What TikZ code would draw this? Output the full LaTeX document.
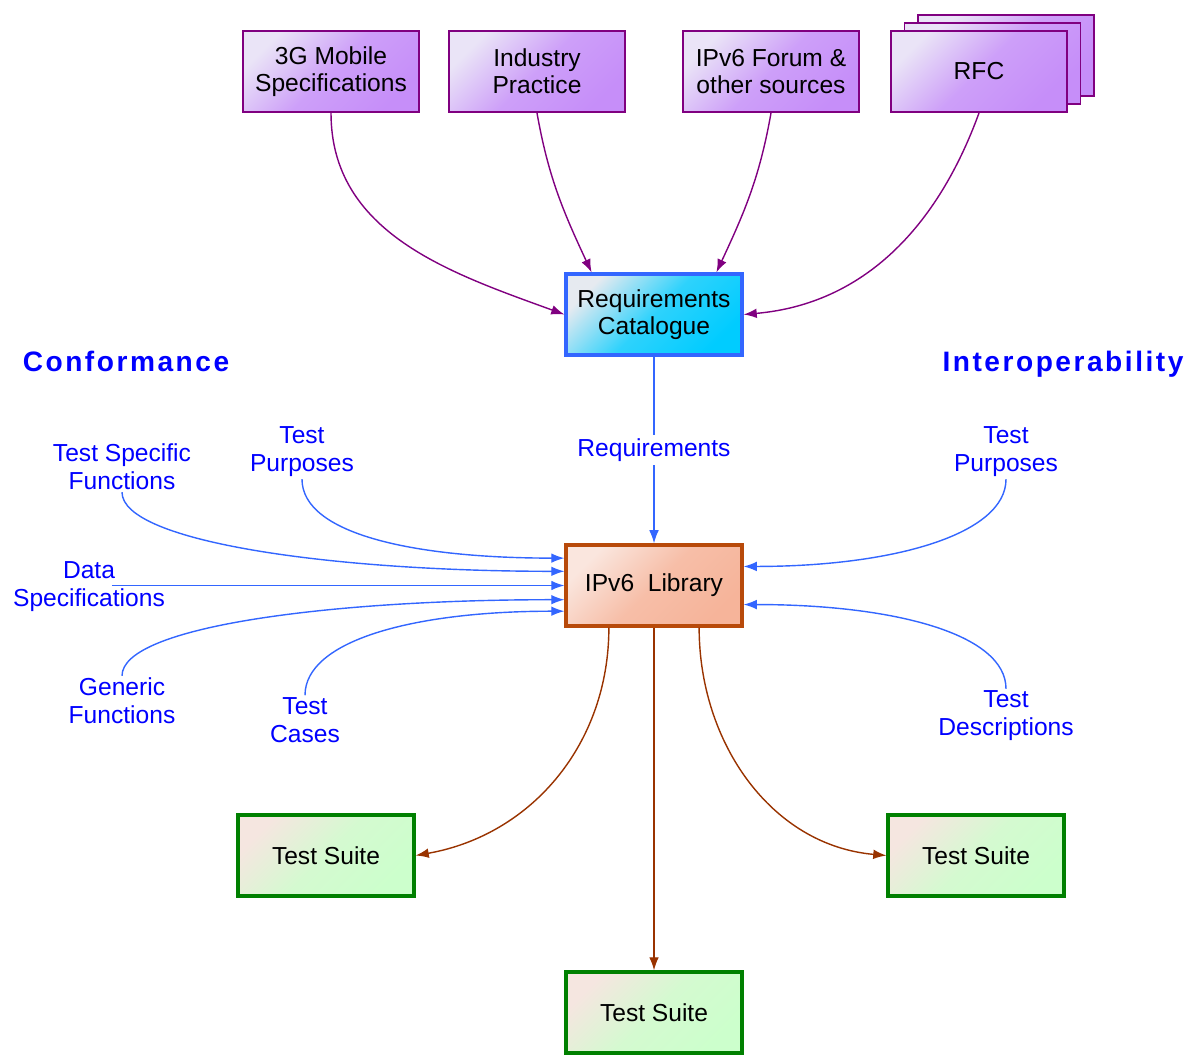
\documentclass[tikz,border=0pt]{standalone}
\usepackage{fontspec}
\setmainfont{Liberation Sans}
\newfontfamily\spacedfont[LetterSpace=9]{Liberation Sans}
\definecolor{SRCline}{HTML}{800080}
\definecolor{SRClight}{HTML}{EAE4F7}
\definecolor{SRCdark}{HTML}{C68EF9}
\definecolor{REQline}{HTML}{3366FF}
\definecolor{REQlight}{HTML}{E6EAF0}
\definecolor{REQdark}{HTML}{00CCFF}
\definecolor{LIBline}{HTML}{B84A0A}
\definecolor{LIBlight}{HTML}{FAE6DE}
\definecolor{LIBdark}{HTML}{F6B49A}
\definecolor{TSline}{HTML}{008000}
\definecolor{TSlight}{HTML}{F5E6E0}
\definecolor{TSdark}{HTML}{CCFFCC}
\definecolor{FEEDline}{HTML}{3366FF}
\definecolor{LABELcolor}{HTML}{0000FF}
\definecolor{SUITEline}{HTML}{993300}
\usetikzlibrary{math, arrows.meta}

\begin{document}
\begin{tikzpicture}[x=0.02cm, y=0.02cm,
    box/.style={minimum width=\bw*0.02cm, minimum height=\bh*0.02cm, inner sep=0pt,
        align=center, font=\fontsize{14}{15.5}\selectfont},
    srcfill/.style={draw=SRCline, line width=1.1pt, top color=SRClight, bottom color=SRCdark,
        middle color=SRCdark!80!SRClight, shading angle=45},
    src/.style={box, srcfill},
    reqbox/.style={box, draw=REQline, line width=1.8pt, top color=REQlight, bottom color=REQdark,
        middle color=REQdark!80!REQlight, shading angle=45},
    libbox/.style={box, draw=LIBline, line width=1.8pt, top color=LIBlight, bottom color=LIBdark,
        middle color=LIBdark!80!LIBlight, shading angle=45},
    suite/.style={box, draw=TSline, line width=1.8pt, top color=TSlight, bottom color=TSdark,
        middle color=TSdark!80!TSlight, shading angle=45},
    title/.style={text=LABELcolor, anchor=base, font=\spacedfont\fontsize{16}{18}\bfseries\selectfont},
    lbl/.style={text=LABELcolor, align=center, inner sep=1pt, font=\fontsize{14}{16}\selectfont},
    tip/.style={-{Latex[length=7.5pt, width=5.5pt]}},
    srcarrow/.style={draw=SRCline, line width=0.8pt, tip},
    feed/.style={draw=FEEDline, line width=0.8pt, tip},
    suitearrow/.style={draw=SUITEline, line width=0.8pt, tip}]
    \tikzmath{%
        \bw=176;
        \bh=81;
        \sx=13.5;
        \sy=8;
    };
    \useasboundingbox (0,0) rectangle (1189,-1057);

    % sources
    \node [src] (mobile) at (331,-71.5) {3G Mobile\\Specifications};
    \node [src] (industry) at (537,-71.5) {Industry\\Practice};
    \node [src] (forum) at (771,-71.5) {IPv6 Forum \&\\other sources};
    \foreach \k in {2, 1} {%
            \path [srcfill] ({891+\k*\sx}, {-31+\k*\sy}) rectangle ++(\bw, -\bh);
        }
    \node [src] (rfc) at (979,-71.5) {RFC};

    % catalogue and library
    \node [reqbox] (req) at (654,-314.5) {Requirements\\Catalogue};
    \node [libbox] (lib) at (654,-585.5) {IPv6\ \ Library};

    % suites
    \node [suite] (suiteL) at (326,-855.5) {Test Suite};
    \node [suite] (suiteB) at (654,-1012.5) {Test Suite};
    \node [suite] (suiteR) at (976,-855.5) {Test Suite};

    % headings
    \node [title] (conf) at (126,-371) {Conformance};
    \node [title] (interop) at (1063,-371) {Interoperability};

    % inputs
    \node [lbl] (tsf) at (122,-467) {Test Specific\\Functions};
    \node [lbl] (tpurpL) at (302,-452) {Test\\Purposes};
    \node [lbl] (dataspec) at (89,-587) {Data\\Specifications};
    \node [lbl] (generic) at (122,-701) {Generic\\Functions};
    \node [lbl] (tcases) at (305,-720) {Test\\Cases};
    \node [lbl] (tpurpR) at (1006,-452) {Test\\Purposes};
    \node [lbl] (tdesc) at (1006,-716) {Test\\Descriptions};
    \coordinate (dataend) at ([xshift=0.46cm]dataspec.center);

    \draw [srcarrow] (mobile.south) to [out=-90, in=160] (req.west);
    \draw [srcarrow] (industry.south) to [out=-80, in=115] (req.146);
    \draw [srcarrow] (forum.south) to [out=-100, in=65] (req.34);
    \draw [srcarrow] (rfc.south) to [out=-110, in=5] (req.east);

    \draw [feed] (req.south) -- node [lbl, fill=white, inner sep=2pt] {Requirements} (lib.north);

    \draw [feed] (tsf.south) .. controls +(0,-50) and +(-230,0) .. (lib.171);
    \draw [feed] (tpurpL.south) .. controls +(0,-55) and +(-150,0) .. (lib.163);
    \draw [feed] (dataend |- lib.west) -- (lib.west);
    \draw [feed] (generic.north) .. controls +(0,50) and +(-230,0) .. (lib.189);
    \draw [feed] (tcases.north) .. controls +(0,55) and +(-150,0) .. (lib.196);
    \draw [feed] (tpurpR.south) .. controls +(0,-55) and +(150,0) .. (lib.12);
    \draw [feed] (tdesc.north) .. controls +(0,55) and +(150,0) .. (lib.348);

    \draw [suitearrow] (lib.223) to [out=-90, in=10] (suiteL.east);
    \draw [suitearrow] (lib.south) -- (suiteB.north);
    \draw [suitearrow] (lib.317) to [out=-90, in=175] (suiteR.west);
\end{tikzpicture}
\end{document}
